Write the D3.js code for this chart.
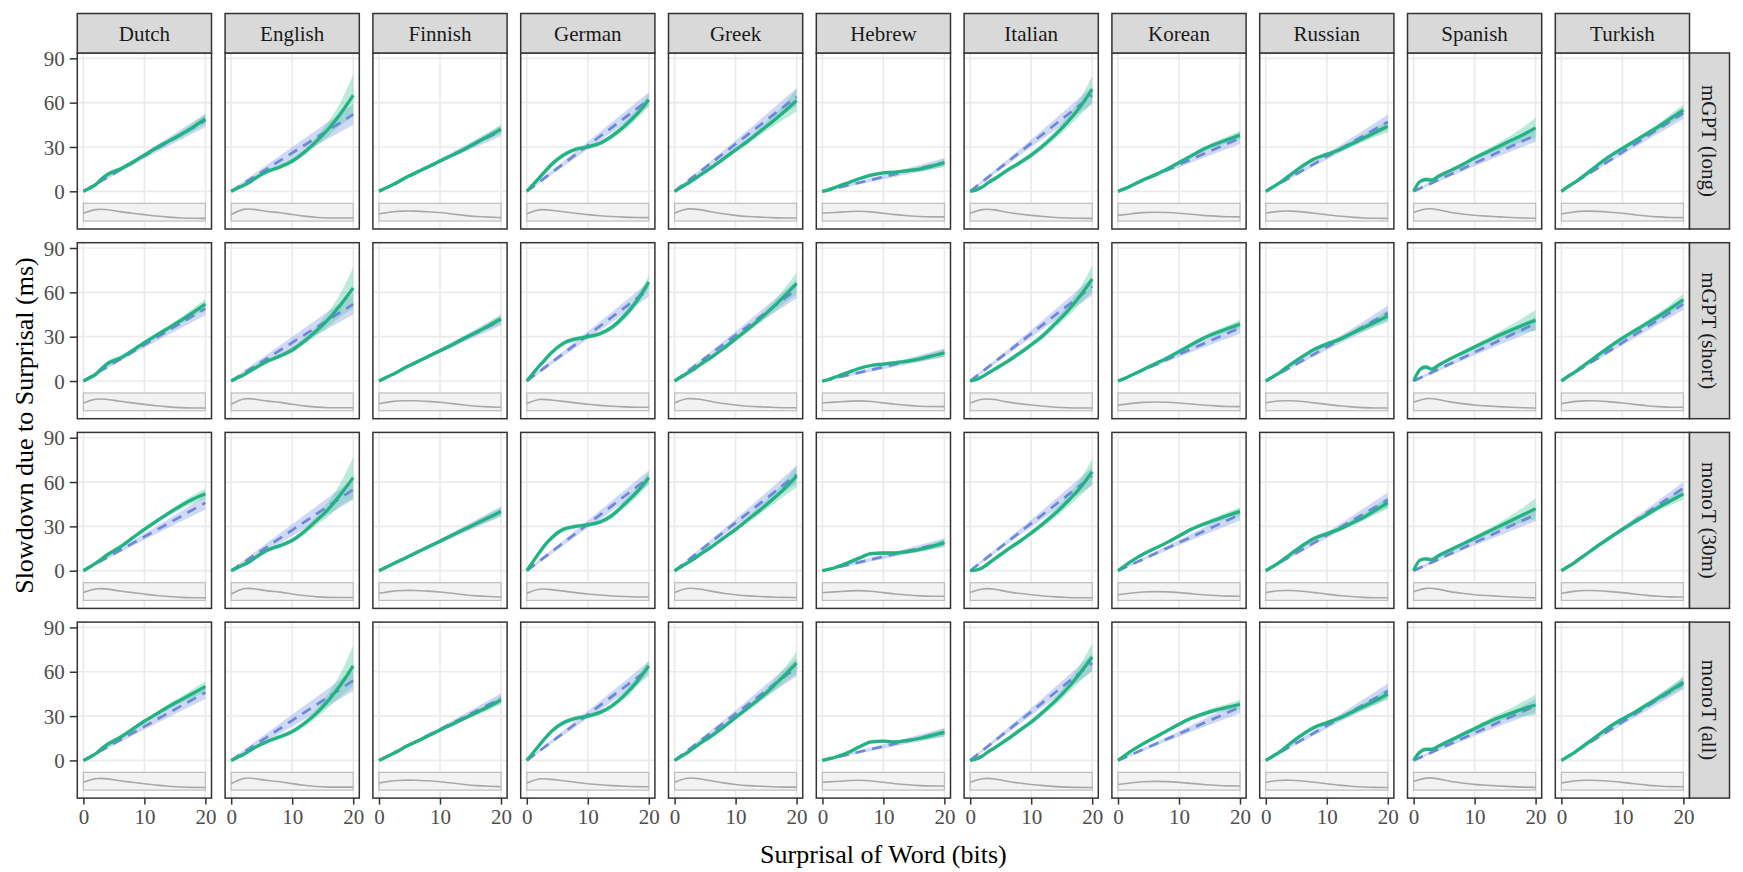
<!DOCTYPE html>
<html>
<head>
<meta charset="utf-8">
<script src="https://cdn.jsdelivr.net/npm/d3@7"></script>
<style>
  body { margin: 0; background: #fff; }
</style>
</head>
<body>
<script>
// facets
var languages = ["Dutch", "English", "Finnish", "German", "Greek", "Hebrew",
                 "Italian", "Korean", "Russian", "Spanish", "Turkish"];
var models = ["mGPT (long)", "mGPT (short)", "monoT (30m)", "monoT (all)"];

// surprisal values where the smooth (GAM) curve was read
var xGrid = [0, 1, 2, 3, 4, 6, 8, 10, 12, 14, 16, 18, 20];

// GAM fit, one array per language, one table per model
var gamLong = [
    [0, 2, 4.5, 8.5, 11.5, 15, 19.5, 24.5, 29.5, 34, 38.5, 43.5, 49],
    [0, 2, 4, 6, 9, 13.5, 16.5, 20.5, 26.5, 34, 42.5, 53, 65],
    [0, 2, 4, 6, 8.5, 12.5, 16.5, 20.5, 24.5, 28.5, 33, 37.5, 42],
    [0, 4.5, 9, 13.5, 18, 24.5, 28.5, 30, 32.5, 37.5, 44, 52, 62],
    [0, 2.5, 5, 7.5, 10.5, 16, 22, 28, 34, 40.5, 47, 54, 61.5],
    [0, 1, 2.5, 4, 5.5, 8.5, 11, 12.5, 13, 14, 15, 17, 19.5],
    [0, 1, 3, 6, 8.5, 14, 19, 24.5, 31, 38.5, 47, 57, 69],
    [0, 1.5, 3.5, 5.5, 7.5, 11, 15, 19.5, 24, 28.5, 32, 35, 38],
    [0, 2.5, 5, 8, 11, 17, 22, 25, 28, 32, 36, 40, 44],
    [0, 6.5, 8, 7.5, 10, 14, 18, 22.5, 26.5, 30.5, 34.5, 38.5, 43],
    [0, 3, 5.5, 8.5, 11.5, 18, 24, 29, 34, 39, 44, 49.5, 55]
];
var gamShort = [
    [0, 2, 4.5, 8.5, 12, 15.5, 20.5, 26, 31, 36, 41, 46.5, 52],
    [0, 2, 4, 6.5, 9, 13.5, 17, 21, 27, 34, 42, 52, 63],
    [0, 2, 4, 6, 8.5, 12.5, 16.5, 20.5, 24.5, 29, 33, 37.5, 42],
    [0, 5, 10, 14.5, 19, 25.5, 28.5, 30, 32, 36.5, 44, 54, 67],
    [0, 2.5, 5, 7.5, 10.5, 16, 22, 28.5, 35, 42, 49.5, 57.5, 66],
    [0, 1, 2.5, 4, 5.5, 8.5, 10.5, 11.5, 12.5, 13.5, 15, 17, 19],
    [0, 1, 3, 5.5, 8, 13, 18.5, 24.5, 31, 39, 47.5, 57.5, 69],
    [0, 1.5, 3.5, 5.5, 7.5, 11.5, 15.5, 20, 24.5, 29, 32.5, 35.5, 38.5],
    [0, 2.5, 5, 8, 11, 16.5, 21.5, 25, 28, 32, 36, 40, 44],
    [0, 7.5, 9.5, 8, 10.5, 15, 19, 23, 27, 31, 34.5, 38, 41],
    [0, 3, 5.5, 8.5, 11.5, 17.5, 23.5, 29, 34, 39, 44, 49.5, 55]
];
var gam30m = [
    [0, 2.5, 5, 8, 11, 16, 22, 28, 33.5, 39, 44, 48.5, 52],
    [0, 2, 4, 6, 9, 14, 17, 20.5, 26.5, 34, 42, 52, 63],
    [0, 2, 4, 6, 8, 12, 16, 20, 24, 28, 32, 36, 40],
    [0, 6, 12, 17.5, 22, 28, 30, 31, 33, 37.5, 45, 53, 63],
    [0, 2.5, 5, 7.5, 10.5, 16, 22, 28, 34.5, 41, 48, 55.5, 64],
    [0, 1, 2, 3.5, 5, 8.5, 11.5, 12, 12, 13, 14.5, 16.5, 19],
    [0, 0.5, 2, 5, 8, 14, 19.5, 25.5, 32, 39, 47, 56, 67],
    [0, 3, 6, 8.5, 11, 15, 19, 23.5, 28, 31.5, 34.5, 37.5, 40],
    [0, 2.5, 5, 8, 11, 17, 22, 25, 28, 32, 36, 41, 46],
    [0, 7, 8, 7.5, 10, 14, 18, 22, 26, 30, 34, 38, 42],
    [0, 2.5, 5, 8, 11, 17, 22.5, 28, 33, 38, 43, 47.5, 52]
];
var gamAll = [
    [0, 2, 4.5, 8, 11, 15.5, 21, 26.5, 31.5, 36.5, 41, 45.5, 50],
    [0, 2, 4, 6.5, 9, 13, 16, 19.5, 25, 32, 41, 51.5, 64],
    [0, 2, 4, 6, 8.5, 12.5, 16.5, 20.5, 24.5, 28.5, 32.5, 36.5, 41],
    [0, 5, 10, 15, 19.5, 25.5, 28.5, 30, 32.5, 37, 44, 53, 64],
    [0, 2.5, 5, 8, 11, 16.5, 22.5, 29, 35.5, 42, 49.5, 57.5, 66],
    [0, 1, 2, 3.5, 5, 9, 12.5, 13, 12.5, 13.5, 15, 17, 19],
    [0, 1, 3, 6, 8.5, 14, 20, 26, 33, 40.5, 49, 59, 70],
    [0, 3, 6, 8.5, 11, 15.5, 20, 24.5, 28.5, 31.5, 34, 36, 38],
    [0, 2.5, 5, 8, 11.5, 17.5, 22.5, 25.5, 28.5, 32.5, 36.5, 40.5, 45],
    [0, 5.5, 7.5, 7.5, 9.5, 13.5, 17.5, 21.5, 25.5, 29, 32, 35, 37.5],
    [0, 2.5, 5, 8, 11, 17, 23, 28, 32.5, 37.5, 42.5, 47.5, 53]
];

// GAM ribbon half-width per language, at xGrid
var gamBand = [
    [0.8, 1, 1.2, 1.5, 1.7, 1.6, 1.5, 1.5, 1.6, 1.8, 2.2, 2.8, 3.5],
    [0.8, 1, 1.2, 1.3, 1.4, 1.5, 1.6, 1.8, 2.2, 3.2, 5, 8, 14],
    [0.6, 0.8, 1, 1.1, 1.2, 1.2, 1.2, 1.2, 1.3, 1.5, 1.8, 2.3, 3],
    [0.8, 1.2, 1.5, 1.7, 1.8, 1.7, 1.5, 1.5, 1.6, 2, 2.6, 3.3, 4],
    [0.7, 0.9, 1.1, 1.3, 1.4, 1.5, 1.6, 1.8, 2.1, 2.6, 3.5, 5, 7.5],
    [0.5, 0.6, 0.8, 1, 1.1, 1.2, 1.2, 1.2, 1.2, 1.3, 1.6, 2, 2.6],
    [0.8, 1, 1.2, 1.4, 1.5, 1.6, 1.7, 1.9, 2.2, 2.8, 3.8, 5.5, 9],
    [0.7, 0.9, 1, 1.1, 1.2, 1.2, 1.2, 1.3, 1.4, 1.6, 1.9, 2.3, 3],
    [0.7, 1, 1.3, 1.5, 1.6, 1.6, 1.5, 1.5, 1.6, 1.9, 2.4, 3, 4],
    [0.8, 1.3, 1.5, 1.5, 1.5, 1.5, 1.5, 1.6, 1.9, 2.5, 3.5, 5, 7],
    [0.7, 0.9, 1.1, 1.3, 1.4, 1.5, 1.5, 1.5, 1.6, 1.9, 2.3, 3, 4]
];

// linear fit: value at surprisal 20 (line starts at 0), per model row
var linLong  = [48, 52, 41, 62, 64, 19.5, 65, 36, 47, 38, 53];
var linShort = [49, 52, 41, 62, 62, 19, 64, 36, 46, 39, 52];
var lin30m   = [46, 55, 40, 63, 65, 19, 64, 38, 48, 38, 56];
var linAll   = [46, 54, 42, 62, 63, 19, 66, 36, 47, 37, 52];

// linear ribbon half-width at surprisal 0, 10, 20
var linX = [0, 10, 20];
var linBand = [
    [0.8, 2, 4.5], [1, 4, 7], [0.6, 1.5, 3.5], [0.8, 2.5, 5], [0.8, 2.5, 6],
    [0.6, 1.5, 3], [0.8, 2.5, 6], [0.7, 1.8, 4], [0.8, 2, 5], [0.8, 2, 4.5],
    [0.7, 1.8, 4]
];

// surprisal density (relative height inside the inset box)
var densX = [0, 2, 4, 6, 8, 10, 12, 14, 16, 18, 20];
var density = [
    [0.45, 0.75, 0.7, 0.55, 0.45, 0.35, 0.25, 0.18, 0.12, 0.1, 0.1],
    [0.35, 0.8, 0.7, 0.55, 0.5, 0.35, 0.25, 0.15, 0.12, 0.12, 0.12],
    [0.4, 0.55, 0.6, 0.6, 0.55, 0.5, 0.4, 0.3, 0.22, 0.18, 0.15],
    [0.4, 0.75, 0.65, 0.55, 0.45, 0.35, 0.28, 0.22, 0.18, 0.15, 0.15],
    [0.45, 0.8, 0.7, 0.55, 0.4, 0.3, 0.22, 0.18, 0.15, 0.12, 0.12],
    [0.45, 0.5, 0.55, 0.6, 0.55, 0.45, 0.35, 0.28, 0.22, 0.2, 0.2],
    [0.45, 0.75, 0.7, 0.5, 0.4, 0.3, 0.22, 0.15, 0.12, 0.1, 0.1],
    [0.3, 0.4, 0.5, 0.52, 0.5, 0.45, 0.38, 0.3, 0.25, 0.2, 0.2],
    [0.45, 0.6, 0.6, 0.55, 0.45, 0.35, 0.25, 0.18, 0.12, 0.1, 0.1],
    [0.5, 0.8, 0.7, 0.5, 0.4, 0.3, 0.25, 0.2, 0.15, 0.12, 0.1],
    [0.4, 0.55, 0.6, 0.58, 0.52, 0.45, 0.35, 0.25, 0.2, 0.15, 0.15]
];

var xTicks = [0, 10, 20];
var yTicks = [0, 30, 60, 90];

var gamRows = [gamLong, gamShort, gam30m, gamAll];
var linRows = [linLong, linShort, lin30m, linAll];

// layout
var W = 1743, H = 872;
var left0 = 77.3, colPitch = 147.8, pw = 134.2;
var top0 = 53, rowPitch = 189.7, ph = 176;
var stripH = 39.5, stripW = 40;
var serif = "'Liberation Serif', 'Times New Roman', serif";

var green = "#23b283", blue = "#6d87dc";

var x = d3.scaleLinear().domain([-1, 21]).range([0, pw]);
var y = d3.scaleLinear().domain([-25.5, 93.6]).range([ph, 0]);

var svg = d3.select("body").append("svg")
    .attr("width", W)
    .attr("height", H)
    .style("font-family", serif);

svg.append("defs").append("clipPath")
    .attr("id", "panel-clip")
    .append("rect")
    .attr("width", pw)
    .attr("height", ph);

var gamLine = d3.line()
    .curve(d3.curveMonotoneX)
    .x(function(d) { return x(d[0]); })
    .y(function(d) { return y(d[1]); });

var band = d3.area()
    .curve(d3.curveMonotoneX)
    .x(function(d) { return x(d[0]); })
    .y0(function(d) { return y(d[1] - d[2]); })
    .y1(function(d) { return y(d[1] + d[2]); });

var densLine = d3.line()
    .curve(d3.curveBasis)
    .x(function(d) { return x(d[0]); })
    .y(function(d) { return y(-19.3 + d[1] * 10); });

function styleAxis(a) {
    a.select(".domain").remove();
    a.selectAll("line").attr("stroke", "#333").attr("stroke-width", 1.5);
    a.selectAll("text")
        .attr("fill", "#4d4d4d")
        .style("font-size", "21px")
        .style("font-family", serif);
}

models.forEach(function(model, r) {
    languages.forEach(function(lang, c) {
        var g = svg.append("g")
            .attr("transform", "translate(" + (left0 + c * colPitch) + "," + (top0 + r * rowPitch) + ")");

        // grid
        g.selectAll(".vgrid").data(xTicks).enter().append("line")
            .attr("x1", function(d) { return x(d); })
            .attr("x2", function(d) { return x(d); })
            .attr("y1", 0).attr("y2", ph)
            .attr("stroke", "#ebebeb").attr("stroke-width", 1.7);
        g.selectAll(".hgrid").data(yTicks).enter().append("line")
            .attr("y1", function(d) { return y(d); })
            .attr("y2", function(d) { return y(d); })
            .attr("x1", 0).attr("x2", pw)
            .attr("stroke", "#ebebeb").attr("stroke-width", 1.7);

        var plot = g.append("g").attr("clip-path", "url(#panel-clip)");

        // density inset
        plot.append("rect")
            .attr("x", x(0)).attr("width", x(20) - x(0))
            .attr("y", y(-8.1)).attr("height", y(-20.1) - y(-8.1))
            .attr("fill", "#f2f2f2")
            .attr("stroke", "#bdbdbd")
            .attr("stroke-width", 1.2);
        plot.append("path")
            .datum(densX.map(function(v, i) { return [v, density[c][i]]; }))
            .attr("fill", "none")
            .attr("stroke", "#a8a8a8")
            .attr("stroke-width", 1.6)
            .attr("d", densLine);

        var end = linRows[r][c];
        var gam = gamRows[r][c];

        // linear ribbon
        plot.append("path")
            .datum(linX.map(function(v, i) { return [v, end * v / 20, linBand[c][i]]; }))
            .attr("fill", "#8da2e8")
            .attr("fill-opacity", 0.42)
            .attr("d", band);

        // gam ribbon
        plot.append("path")
            .datum(xGrid.map(function(v, i) { return [v, gam[i], gamBand[c][i]]; }))
            .attr("fill", "#5fd0a8")
            .attr("fill-opacity", 0.42)
            .attr("d", band);

        // linear fit
        plot.append("path")
            .datum([[0, 0], [20, end]])
            .attr("fill", "none")
            .attr("stroke", blue)
            .attr("stroke-width", 2.7)
            .attr("stroke-dasharray", "10,7")
            .attr("d", gamLine);

        // gam fit
        plot.append("path")
            .datum(xGrid.map(function(v, i) { return [v, gam[i]]; }))
            .attr("fill", "none")
            .attr("stroke", green)
            .attr("stroke-width", 3.3)
            .attr("stroke-linejoin", "round")
            .attr("d", gamLine);

        // panel border
        g.append("rect")
            .attr("width", pw).attr("height", ph)
            .attr("fill", "none")
            .attr("stroke", "#333")
            .attr("stroke-width", 1.5);

        // axes
        if (c == 0) {
            var ya = g.append("g").call(d3.axisLeft(y).tickValues(yTicks).tickSize(7.5).tickPadding(5));
            styleAxis(ya);
            ya.selectAll("text").attr("dy", "0.34em");
        }
        if (r == models.length - 1) {
            var xa = g.append("g")
                .attr("transform", "translate(0," + ph + ")")
                .call(d3.axisBottom(x).tickValues(xTicks).tickSize(6.5).tickPadding(4));
            styleAxis(xa);
        }

        // strips
        if (r == 0) {
            g.append("rect")
                .attr("y", -stripH).attr("width", pw).attr("height", stripH)
                .attr("fill", "#d9d9d9").attr("stroke", "#333").attr("stroke-width", 1.5);
            g.append("text")
                .attr("x", pw / 2).attr("y", -stripH / 2)
                .attr("dy", "0.35em")
                .attr("text-anchor", "middle")
                .attr("fill", "#1a1a1a")
                .style("font-size", "21px")
                .text(lang);
        }
        if (c == languages.length - 1) {
            g.append("rect")
                .attr("x", pw).attr("width", stripW).attr("height", ph)
                .attr("fill", "#d9d9d9").attr("stroke", "#333").attr("stroke-width", 1.5);
            g.append("text")
                .attr("transform", "translate(" + (pw + stripW / 2) + "," + (ph / 2) + ") rotate(90)")
                .attr("dy", "0.35em")
                .attr("text-anchor", "middle")
                .attr("fill", "#1a1a1a")
                .style("font-size", "21px")
                .text(model);
        }
    });
});

// axis titles
var gridMidX = left0 + ((languages.length - 1) * colPitch + pw) / 2;
var gridMidY = top0 + ((models.length - 1) * rowPitch + ph) / 2;

svg.append("text")
    .attr("x", gridMidX)
    .attr("y", 863)
    .attr("text-anchor", "middle")
    .style("font-size", "26px")
    .text("Surprisal of Word (bits)");

svg.append("text")
    .attr("transform", "translate(33," + gridMidY + ") rotate(-90)")
    .attr("text-anchor", "middle")
    .style("font-size", "26px")
    .text("Slowdown due to Surprisal (ms)");
</script>
</body>
</html>
